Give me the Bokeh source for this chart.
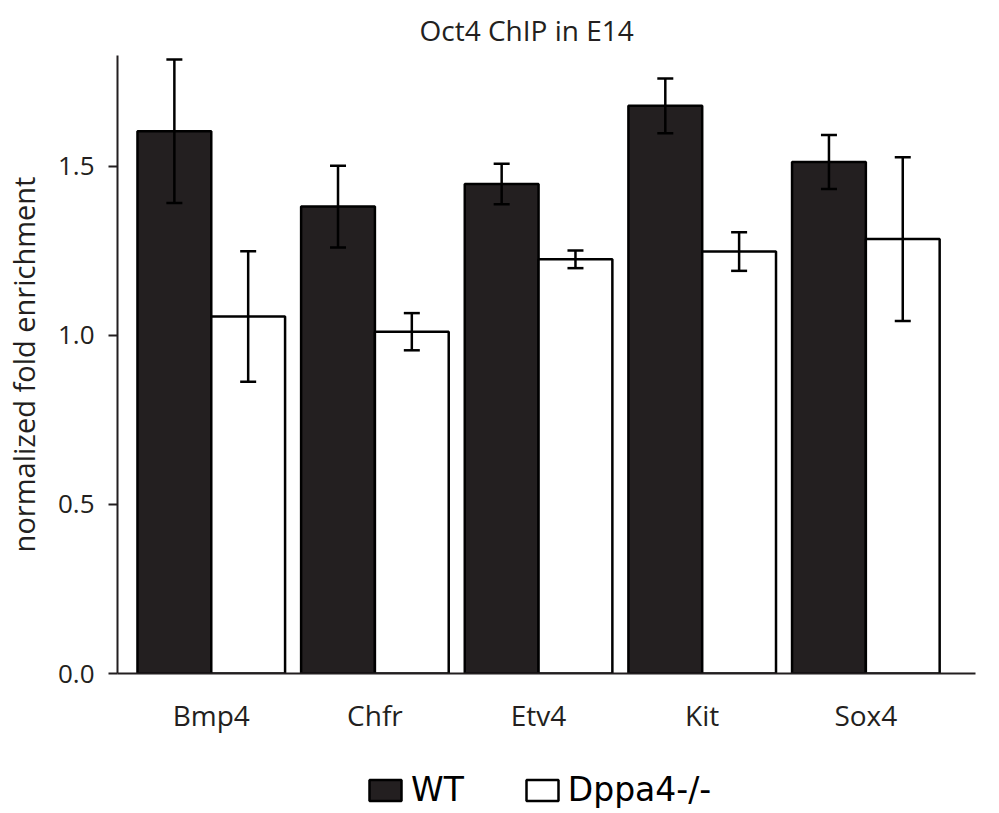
import numpy as np
from bokeh.plotting import figure
from bokeh.layouts import column
from bokeh.models import ColumnDataSource, Range1d, FixedTicker, Whisker, Legend, LegendItem
from bokeh.embed import file_html
from bokeh.resources import INLINE

categories = ["Bmp4", "Chfr", "Etv4", "Kit", "Sox4"]
wt_values = [1.604, 1.381, 1.448, 1.679, 1.513]
wt_err = [0.212, 0.121, 0.060, 0.081, 0.080]
ko_values = [1.056, 1.011, 1.225, 1.248, 1.285]
ko_err = [0.193, 0.055, 0.026, 0.057, 0.242]
y_ticks = [0.0, 0.5, 1.0, 1.5]
series_names = ["WT", "Dppa4-/-"]

FONT = "Open Sans"
DARK = "#231f20"

x = np.arange(len(categories))
bw = 0.451
off = bw / 2

wt_src = ColumnDataSource(dict(x=x - off, top=wt_values,
                               lo=np.array(wt_values) - np.array(wt_err),
                               hi=np.array(wt_values) + np.array(wt_err)))
ko_src = ColumnDataSource(dict(x=x + off, top=ko_values,
                               lo=np.array(ko_values) - np.array(ko_err),
                               hi=np.array(ko_values) + np.array(ko_err)))

p = figure(width=999, height=745, output_backend="svg", toolbar_location=None,
           x_range=Range1d(-0.573, 4.67), y_range=Range1d(0, 1.828),
           min_border_left=115, min_border_right=24, min_border_top=55, min_border_bottom=72)

p.title.text = "Oct4 ChIP in E14"
p.title.align = "left"
p.title.offset = 302
p.title.text_font = FONT
p.title.text_font_size = "28px"
p.title.text_font_style = "normal"
p.title.text_color = DARK
p.title.standoff = 14

bar_styles = [dict(fill_color=DARK, line_color="black", line_width=2.5),
              dict(fill_color="white", line_color="black", line_width=2.5)]

for src, st in zip((wt_src, ko_src), bar_styles):
    p.vbar(x="x", top="top", bottom=0, width=bw, source=src, **st)

for src in (wt_src, ko_src):
    w = Whisker(source=src, base="x", lower="lo", upper="hi", line_color="black",
                line_width=2.5, level="overlay")
    w.upper_head.size = 16
    w.lower_head.size = 16
    w.upper_head.line_width = 2.5
    w.lower_head.line_width = 2.5
    w.upper_head.line_color = "black"
    w.lower_head.line_color = "black"
    p.add_layout(w)

p.grid.visible = False
p.outline_line_color = None

p.xaxis.ticker = FixedTicker(ticks=list(x))
p.xaxis.major_label_overrides = {int(i): c for i, c in zip(x, categories)}
p.xaxis.major_tick_line_color = None
p.xaxis.minor_tick_line_color = None
p.xaxis.axis_line_width = 2
p.xaxis.axis_line_color = DARK
p.xaxis.major_label_text_font = FONT
p.xaxis.major_label_text_font_size = "28px"
p.xaxis.major_label_text_color = DARK
p.xaxis.major_label_standoff = 16

p.yaxis.ticker = FixedTicker(ticks=y_ticks)
p.yaxis.major_label_overrides = {t: f"{t:.1f}" for t in y_ticks}
p.yaxis.minor_tick_line_color = None
p.yaxis.major_tick_in = 0
p.yaxis.major_tick_out = 9
p.yaxis.major_tick_line_width = 2
p.yaxis.major_tick_line_color = DARK
p.yaxis.axis_line_width = 2
p.yaxis.axis_line_color = DARK
p.yaxis.major_label_text_font = FONT
p.yaxis.major_label_text_font_size = "26px"
p.yaxis.major_label_text_color = DARK
p.yaxis.major_label_standoff = 14
p.yaxis.axis_label = "normalized fold enrichment"
p.yaxis.axis_label_text_font = FONT
p.yaxis.axis_label_text_font_size = "29px"
p.yaxis.axis_label_text_font_style = "normal"
p.yaxis.axis_label_text_color = DARK
p.yaxis.axis_label_standoff = 12

# legend strip below the chart; swatch renderers are zero-size rects hidden inside the dark swatch
q = figure(width=999, height=68, output_backend="svg", toolbar_location=None,
           x_range=Range1d(0, 1), y_range=Range1d(0, 1),
           min_border=0, x_axis_location=None, y_axis_location=None)
q.grid.visible = False
q.outline_line_color = None
leg_renderers = [q.vbar(x="x", top="top", bottom="bottom", width=0,
                        source=ColumnDataSource(dict(x=[0.315], top=[0.34], bottom=[0.34])), **st)
                 for st in bar_styles]

legend = Legend(items=[LegendItem(label=n, renderers=[r]) for n, r in zip(series_names, leg_renderers)],
                orientation="horizontal", location=(248, 4))
legend.label_text_font = "DejaVu Sans"
legend.label_text_font_size = "33px"
legend.label_text_color = "black"
legend.glyph_width = 40
legend.glyph_height = 26
legend.label_standoff = 6
legend.spacing = 58
legend.border_line_color = None
legend.background_fill_alpha = 0
legend.margin = 0
legend.padding = 0
q.add_layout(legend, "center")

layout = column(p, q, spacing=0)
open("out.html", "w").write(file_html(layout, INLINE))
